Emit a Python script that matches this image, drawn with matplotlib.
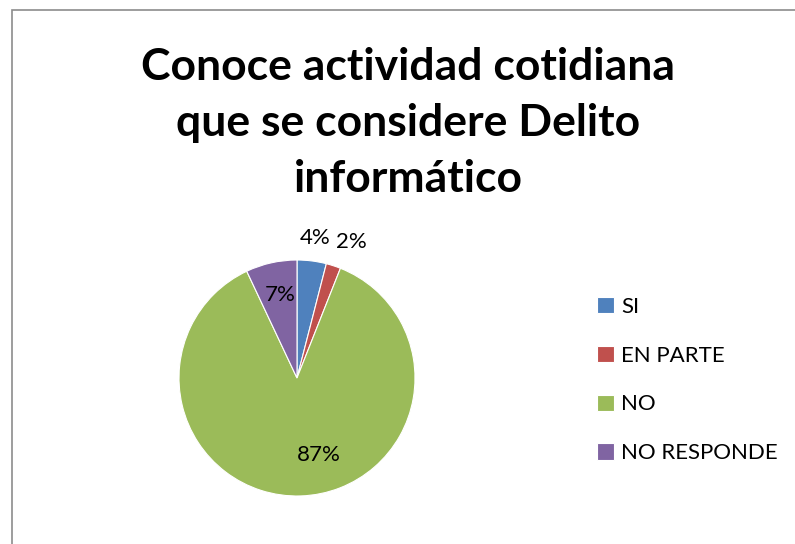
import numpy as np
import matplotlib
matplotlib.use("Agg")
import matplotlib.pyplot as plt
from matplotlib.patches import Rectangle

# Data
categories = ["SI", "EN PARTE", "NO", "NO RESPONDE"]
values = [4, 2, 87, 7]
colors = ["#4F81BD", "#C0504D", "#9BBB59", "#8064A2"]
title = "Conoce actividad cotidiana\nque se considere Delito\ninformático"

plt.rcParams['font.family'] = ['Lato', 'DejaVu Sans']

fig = plt.figure(figsize=(7.95, 5.44), dpi=100)

# chart border (Excel style frame)
fig.patches.append(Rectangle((12 / 795, -0.05), 1.2, 1.05 - 10 / 544,
                             transform=fig.transFigure, fill=False,
                             edgecolor="#8c8c8c", linewidth=1.2))

W, H = 795, 544
cx, cy, R = 297, 378, 118
ax = fig.add_axes([(cx - R) / W, (H - cy - R) / H, 2 * R / W, 2 * R / H])

wedges, _ = ax.pie(values, colors=colors, startangle=90, counterclock=False,
                   radius=1.0, wedgeprops=dict(edgecolor="white", linewidth=0.8))
ax.set_xlim(-1, 1)
ax.set_ylim(-1, 1)
ax.set_aspect("equal")
ax.axis("off")

# data label placement (Excel "best fit")
label_dist = [1.2, 1.24, 0.68, 0.72]
angle_shift = [0, -4, 14, -1]
for w, v, d, s in zip(wedges, values, label_dist, angle_shift):
    ang = np.deg2rad((w.theta1 + w.theta2) / 2 + s)
    ax.text(d * np.cos(ang), d * np.sin(ang), f"{v}%", ha="center", va="center",
            fontsize=16, color="black", clip_on=False)

fig.text(408 / W, 1 - 123 / H, title, ha="center", va="center",
         fontsize=32, fontweight="bold", linespacing=1.5)

ax.legend(wedges, categories, loc="center left", bbox_to_anchor=(597 / W, 1 - 380 / H),
          bbox_transform=fig.transFigure, frameon=False, fontsize=16,
          handlelength=0.75, handleheight=0.75, handletextpad=0.35, labelspacing=1.3,
          borderaxespad=0, borderpad=0)

fig.savefig("out.png", dpi=100)
